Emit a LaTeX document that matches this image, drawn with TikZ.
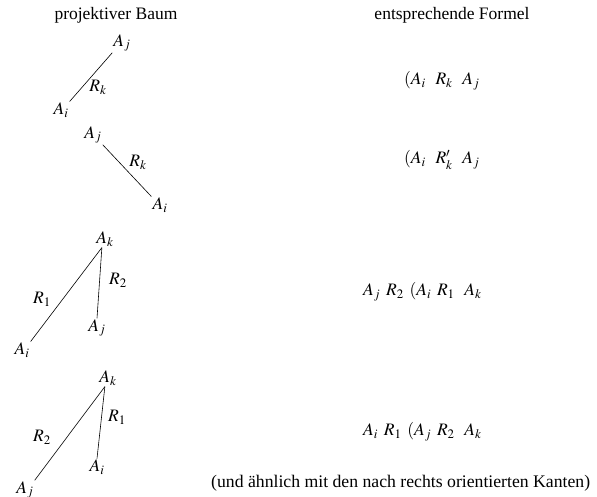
\documentclass[tikz,border=0pt]{standalone}
\usepackage{mathptmx}
\usepackage{fontspec}
\setmainfont{Liberation Serif}
\begin{document}
\begin{tikzpicture}[x=1pt,y=-1pt,
  lbl/.style={inner sep=1pt,font=\fontsize{17.5}{20}\selectfont},
  formel/.style={inner sep=0pt,anchor=west,font=\fontsize{17.5}{20}\selectfont},
  head/.style={inner sep=0pt,font=\fontsize{17.5}{20}\selectfont},
  edge/.style={line width=0.6pt}]
\useasboundingbox (0,0) rectangle (597,497);
% headers
\node[head] (h1) at (116,15) {projektiver Baum};
\node[head] (h2) at (452,15) {entsprechende Formel};
% tree 1
\node[lbl] (t1j) at (122,43) {$A_j$};
\node[lbl] (t1i) at (61,110) {$A_i$};
\node[lbl] (t1r) at (98,87) {$R_k$};
\draw[edge] (t1j.south west) -- (t1i.north east);
\node[formel] (f1) at (404,81) {$(A_i\;\;\, R_k\;\;\, A_j$};
% tree 2
\node[lbl] (t2j) at (93,135) {$A_j$};
\node[lbl] (t2i) at (160,205) {$A_i$};
\node[lbl] (t2r) at (138,162) {$R_k$};
\draw[edge] (t2j.south east) -- (t2i.north west);
\node[formel] (f2) at (404,160) {$(A_i\;\;\, R_k'\;\;\, A_j$};
% tree 3
\node[lbl] (t3k) at (105,239) {$A_k$};
\node[lbl] (t3j) at (97,328) {$A_j$};
\node[lbl] (t3i) at (22,350) {$A_i$};
\node[lbl] (t3r2) at (118,280) {$R_2$};
\node[lbl] (t3r1) at (42,299) {$R_1$};
\draw[edge] (t3k.250) -- (t3j.north);
\draw[edge] (t3k.250) -- (t3i.north east);
\node[formel] (f3) at (363,292) {$A_j\;\,R_2\;\,(A_i\;\,R_1\;\;\,A_k$};
% tree 4
\node[lbl] (t4k) at (108,378) {$A_k$};
\node[lbl] (t4i) at (97,467) {$A_i$};
\node[lbl] (t4j) at (25,490) {$A_j$};
\node[lbl] (t4r1) at (117,417) {$R_1$};
\node[lbl] (t4r2) at (42,437) {$R_2$};
\draw[edge] (t4k.250) -- (t4i.north);
\draw[edge] (t4k.250) -- (t4j.north east);
\node[formel] (f4) at (363,432) {$A_i\;\,R_1\;\,(A_j\;\,R_2\;\;\,A_k$};
% note
\node[head,anchor=west,font=\fontsize{17.7}{20}\selectfont] (note) at (211,483) {(und ähnlich mit den nach rechts orientierten Kanten)};
\end{tikzpicture}
\end{document}
